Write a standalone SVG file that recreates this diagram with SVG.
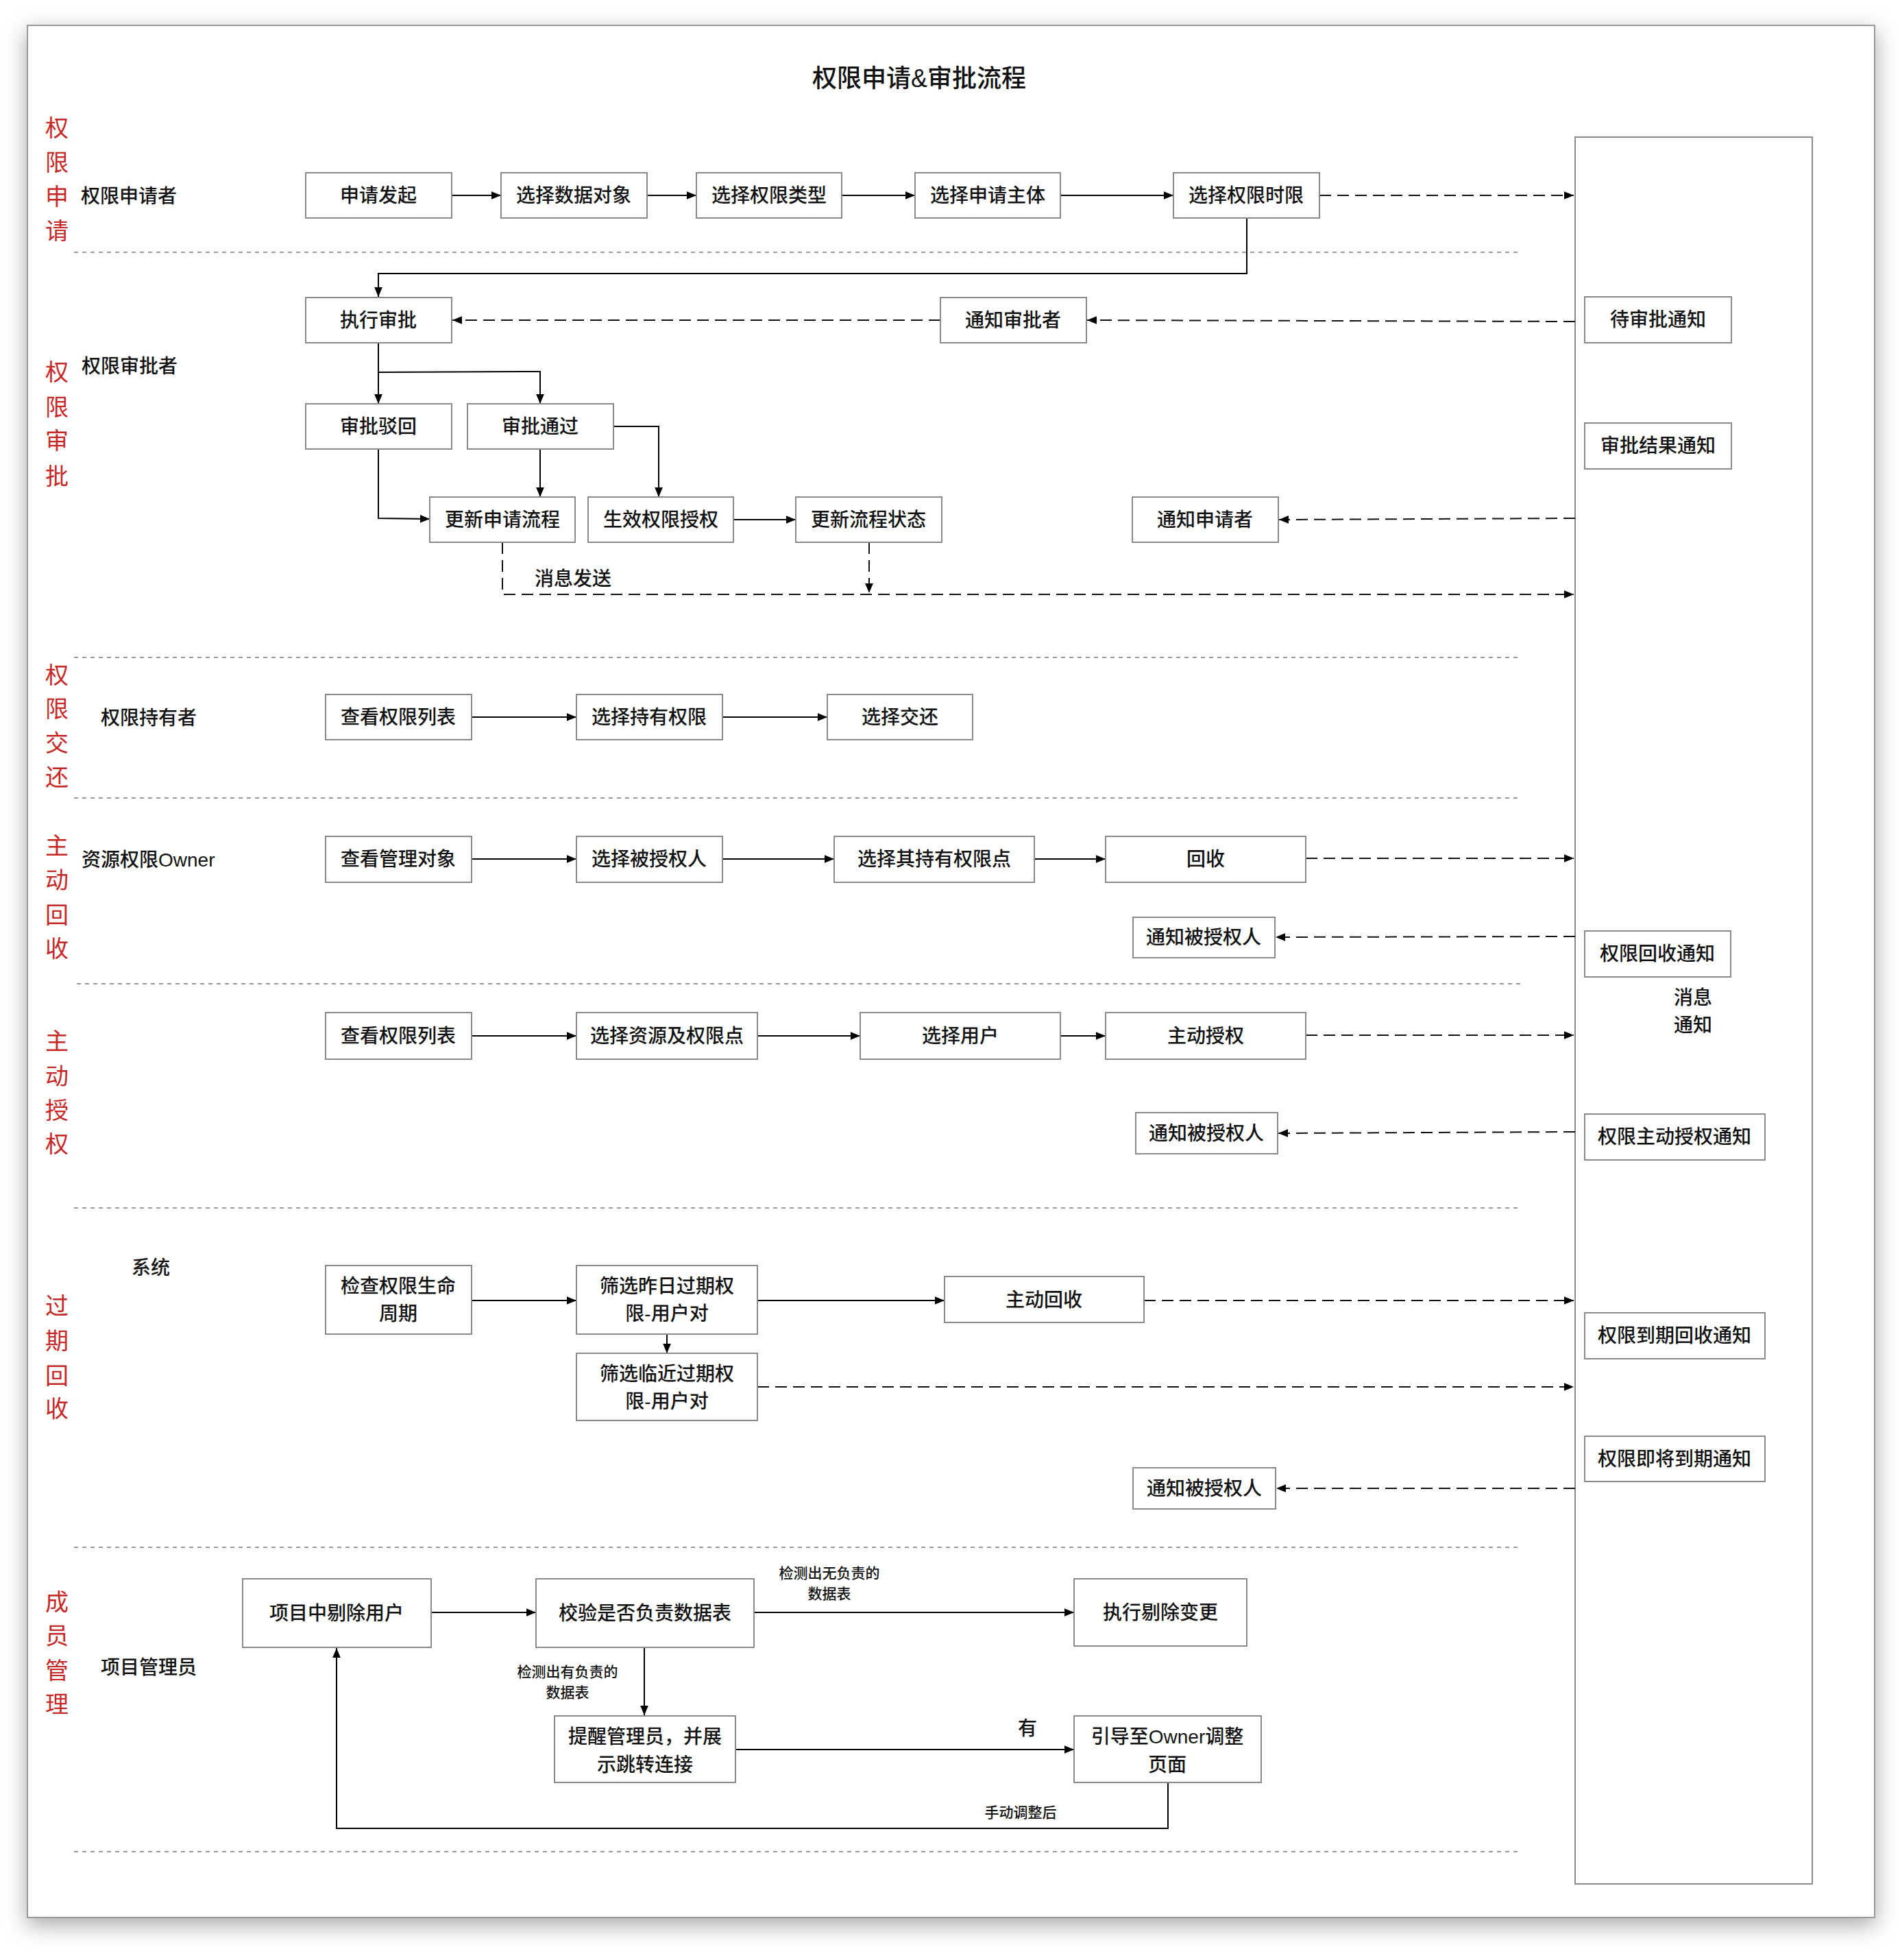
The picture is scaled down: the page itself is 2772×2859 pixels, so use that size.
<svg xmlns="http://www.w3.org/2000/svg" width="2772" height="2859" viewBox="0 0 2772 2859">
<defs>
<filter id="sh" x="-3%" y="-3%" width="106%" height="106%">
<feDropShadow dx="0" dy="10" stdDeviation="16" flood-color="#000" flood-opacity="0.35"/>
</filter>
<marker id="ah" viewBox="0 0 12 10" refX="12" refY="5" markerWidth="14" markerHeight="12" markerUnits="userSpaceOnUse" orient="auto">
<path d="M0,0 L12,5 L0,10 z" fill="#000"/>
</marker>
<style>
text{font-family:'Liberation Sans','Noto Sans CJK SC',sans-serif;fill:#111;}
.bx rect{fill:#fff;stroke:#8a8a8a;stroke-width:2;}
.bx text{font-size:28px;text-anchor:middle;dominant-baseline:central;font-weight:500;}
.lane{font-size:34px;fill:#c62828;text-anchor:middle;dominant-baseline:central;}
.role{font-size:28px;dominant-baseline:central;font-weight:500;}
.lbl{font-size:28px;text-anchor:middle;dominant-baseline:central;font-weight:500;}
.sm{font-size:21px;text-anchor:middle;dominant-baseline:central;font-weight:500;}
.sep{stroke:#9a9a9a;stroke-width:2;stroke-dasharray:6 6;fill:none;}
.s{stroke:#000;stroke-width:2;fill:none;marker-end:url(#ah);}
.sn{stroke:#000;stroke-width:2;fill:none;}
.d{stroke:#111;stroke-width:2;fill:none;stroke-dasharray:17 9;marker-end:url(#ah);}
.dn{stroke:#111;stroke-width:2;fill:none;stroke-dasharray:17 9;}
</style>
</defs>

<rect x="0" y="0" width="2772" height="2859" fill="#fff"/>
<rect x="40" y="37" width="2695" height="2760" fill="#fff" stroke="#999" stroke-width="2" filter="url(#sh)"/>

<text x="1341" y="114" font-size="36" text-anchor="middle" dominant-baseline="central" font-weight="500">权限申请&amp;审批流程</text>

<g id="lanes">
<text class="lane" x="83" y="187">权</text><text class="lane" x="83" y="237">限</text><text class="lane" x="83" y="287">申</text><text class="lane" x="83" y="337">请</text>
<text class="lane" x="83" y="543">权</text><text class="lane" x="83" y="594">限</text><text class="lane" x="83" y="643">审</text><text class="lane" x="83" y="695">批</text>
<text class="lane" x="83" y="985">权</text><text class="lane" x="83" y="1034">限</text><text class="lane" x="83" y="1084">交</text><text class="lane" x="83" y="1134">还</text>
<text class="lane" x="83" y="1234">主</text><text class="lane" x="83" y="1284">动</text><text class="lane" x="83" y="1335">回</text><text class="lane" x="83" y="1384">收</text>
<text class="lane" x="83" y="1519">主</text><text class="lane" x="83" y="1570">动</text><text class="lane" x="83" y="1620">授</text><text class="lane" x="83" y="1669">权</text>
<text class="lane" x="83" y="1905">过</text><text class="lane" x="83" y="1956">期</text><text class="lane" x="83" y="2007">回</text><text class="lane" x="83" y="2055">收</text>
<text class="lane" x="83" y="2337">成</text><text class="lane" x="83" y="2386">员</text><text class="lane" x="83" y="2437">管</text><text class="lane" x="83" y="2486">理</text>
</g>

<g id="roles">
<text class="role" x="118" y="286">权限申请者</text>
<text class="role" x="119" y="534">权限审批者</text>
<text class="role" x="147" y="1047">权限持有者</text>
<text class="role" x="119" y="1254">资源权限Owner</text>
<text class="role" x="192" y="1849">系统</text>
<text class="role" x="147" y="2432">项目管理员</text>
</g>

<g id="separators">
<line class="sep" x1="108" y1="368" x2="2220" y2="368"/>
<line class="sep" x1="108" y1="959" x2="2220" y2="959"/>
<line class="sep" x1="108" y1="1164" x2="2220" y2="1164"/>
<line class="sep" x1="112" y1="1435" x2="2220" y2="1435"/>
<line class="sep" x1="108" y1="1762" x2="2220" y2="1762"/>
<line class="sep" x1="108" y1="2257" x2="2220" y2="2257"/>
<line class="sep" x1="108" y1="2701" x2="2220" y2="2701"/>
</g>

<g id="msgbus" class="bx"><rect x="2298" y="200" width="346" height="2548"/></g>
<text class="lbl" x="2470" y="1455">消息</text>
<text class="lbl" x="2470" y="1495">通知</text>

<g id="connectors">
<line class="s" x1="659" y1="285" x2="731" y2="285"/>
<line class="s" x1="944" y1="285" x2="1016" y2="285"/>
<line class="s" x1="1228" y1="285" x2="1335" y2="285"/>
<line class="s" x1="1547" y1="285" x2="1712" y2="285"/>
<line class="d" x1="1925" y1="285" x2="2296" y2="285"/>
<polyline class="s" points="1819,318 1819,399 552,399 552,433"/>
<line class="d" x1="2298" y1="469" x2="1586" y2="467"/>
<line class="d" x1="1372" y1="467" x2="660" y2="467"/>
<line class="s" x1="552" y1="500" x2="552" y2="589"/>
<polyline class="s" points="552,543 788,542 788,589"/>
<polyline class="s" points="552,655 552,756 627,757"/>
<line class="s" x1="788" y1="655" x2="788" y2="725"/>
<polyline class="s" points="895,622 961,622 961,725"/>
<line class="s" x1="1070" y1="758" x2="1161" y2="758"/>
<line class="d" x1="2298" y1="756" x2="1866" y2="758"/>
<line class="d" x1="1268" y1="791" x2="1268" y2="865"/>
<polyline class="d" points="733,791 733,867 2296,867"/>

<line class="s" x1="688" y1="1046" x2="841" y2="1046"/>
<line class="s" x1="1054" y1="1046" x2="1207" y2="1046"/>

<line class="s" x1="688" y1="1253" x2="841" y2="1253"/>
<line class="s" x1="1054" y1="1253" x2="1217" y2="1253"/>
<line class="s" x1="1509" y1="1253" x2="1613" y2="1253"/>
<line class="d" x1="1905" y1="1252" x2="2296" y2="1252"/>
<line class="d" x1="2298" y1="1366" x2="1861" y2="1367"/>

<line class="s" x1="688" y1="1511" x2="841" y2="1511"/>
<line class="s" x1="1105" y1="1511" x2="1255" y2="1511"/>
<line class="s" x1="1547" y1="1511" x2="1613" y2="1511"/>
<line class="d" x1="1905" y1="1510" x2="2296" y2="1510"/>
<line class="d" x1="2298" y1="1651" x2="1865" y2="1653"/>

<line class="s" x1="688" y1="1897" x2="841" y2="1897"/>
<line class="s" x1="1105" y1="1897" x2="1378" y2="1897"/>
<line class="d" x1="1669" y1="1897" x2="2296" y2="1897"/>
<line class="s" x1="973" y1="1946" x2="973" y2="1974"/>
<line class="d" x1="1105" y1="2023" x2="2296" y2="2023"/>
<line class="d" x1="2298" y1="2171" x2="1862" y2="2171"/>

<line class="s" x1="629" y1="2352" x2="782" y2="2352"/>
<line class="s" x1="1100" y1="2352" x2="1567" y2="2352"/>
<line class="s" x1="940" y1="2403" x2="940" y2="2502"/>
<line class="s" x1="1073" y1="2552" x2="1567" y2="2552"/>
<polyline class="s" points="1704,2600 1704,2667 491,2667 491,2404"/>
</g>

<g id="edge-labels">
<text class="lbl" x="836" y="844">消息发送</text>
<text class="sm" x="1210" y="2294">检测出无负责的</text>
<text class="sm" x="1210" y="2324">数据表</text>
<text class="sm" x="828" y="2438">检测出有负责的</text>
<text class="sm" x="828" y="2468">数据表</text>
<text class="lbl" x="1499" y="2521">有</text>
<text class="sm" x="1489" y="2643">手动调整后</text>
</g>

<g id="n-apply-start" class="bx"><rect x="446" y="252" width="213" height="66"/><text x="552" y="285">申请发起</text></g>
<g id="n-select-data" class="bx"><rect x="731" y="252" width="213" height="66"/><text x="837" y="285">选择数据对象</text></g>
<g id="n-select-type" class="bx"><rect x="1016" y="252" width="212" height="66"/><text x="1122" y="285">选择权限类型</text></g>
<g id="n-select-subject" class="bx"><rect x="1335" y="252" width="212" height="66"/><text x="1441" y="285">选择申请主体</text></g>
<g id="n-select-period" class="bx"><rect x="1712" y="252" width="213" height="66"/><text x="1818" y="285">选择权限时限</text></g>

<g id="n-exec-approve" class="bx"><rect x="446" y="434" width="213" height="66"/><text x="552" y="467">执行审批</text></g>
<g id="n-notify-approver" class="bx"><rect x="1372" y="434" width="213" height="66"/><text x="1478" y="467">通知审批者</text></g>
<g id="n-reject" class="bx"><rect x="446" y="589" width="213" height="66"/><text x="552" y="622">审批驳回</text></g>
<g id="n-pass" class="bx"><rect x="682" y="589" width="213" height="66"/><text x="788" y="622">审批通过</text></g>
<g id="n-update-apply" class="bx"><rect x="627" y="725" width="212" height="66"/><text x="733" y="758">更新申请流程</text></g>
<g id="n-grant" class="bx"><rect x="858" y="725" width="212" height="66"/><text x="964" y="758">生效权限授权</text></g>
<g id="n-update-status" class="bx"><rect x="1161" y="725" width="213" height="66"/><text x="1267" y="758">更新流程状态</text></g>
<g id="n-notify-applicant" class="bx"><rect x="1652" y="725" width="213" height="66"/><text x="1758" y="758">通知申请者</text></g>

<g id="n-view-list-1" class="bx"><rect x="475" y="1013" width="213" height="66"/><text x="581" y="1046">查看权限列表</text></g>
<g id="n-select-held" class="bx"><rect x="841" y="1013" width="213" height="66"/><text x="947" y="1046">选择持有权限</text></g>
<g id="n-return" class="bx"><rect x="1207" y="1013" width="212" height="66"/><text x="1313" y="1046">选择交还</text></g>

<g id="n-view-managed" class="bx"><rect x="475" y="1220" width="213" height="67"/><text x="581" y="1253">查看管理对象</text></g>
<g id="n-select-grantee" class="bx"><rect x="841" y="1220" width="213" height="67"/><text x="947" y="1253">选择被授权人</text></g>
<g id="n-select-points" class="bx"><rect x="1217" y="1220" width="292" height="67"/><text x="1363" y="1253">选择其持有权限点</text></g>
<g id="n-revoke" class="bx"><rect x="1613" y="1220" width="292" height="67"/><text x="1759" y="1253">回收</text></g>
<g id="n-notify-grantee-1" class="bx"><rect x="1653" y="1338" width="207" height="59"/><text x="1756" y="1367">通知被授权人</text></g>

<g id="n-view-list-2" class="bx"><rect x="475" y="1477" width="213" height="68"/><text x="581" y="1511">查看权限列表</text></g>
<g id="n-select-res" class="bx"><rect x="841" y="1477" width="264" height="68"/><text x="973" y="1511">选择资源及权限点</text></g>
<g id="n-select-user" class="bx"><rect x="1255" y="1477" width="292" height="68"/><text x="1401" y="1511">选择用户</text></g>
<g id="n-active-grant" class="bx"><rect x="1613" y="1477" width="292" height="68"/><text x="1759" y="1511">主动授权</text></g>
<g id="n-notify-grantee-2" class="bx"><rect x="1657" y="1623" width="207" height="60"/><text x="1760" y="1653">通知被授权人</text></g>

<g id="n-check-life" class="bx"><rect x="475" y="1846" width="213" height="100"/><text x="581" y="1876">检查权限生命</text><text x="581" y="1916">周期</text></g>
<g id="n-filter-yday" class="bx"><rect x="841" y="1846" width="264" height="100"/><text x="973" y="1876">筛选昨日过期权</text><text x="973" y="1916">限-用户对</text></g>
<g id="n-auto-revoke" class="bx"><rect x="1378" y="1862" width="291" height="67"/><text x="1523" y="1896">主动回收</text></g>
<g id="n-filter-near" class="bx"><rect x="841" y="1974" width="264" height="98"/><text x="973" y="2004">筛选临近过期权</text><text x="973" y="2044">限-用户对</text></g>
<g id="n-notify-grantee-3" class="bx"><rect x="1653" y="2141" width="208" height="60"/><text x="1757" y="2171">通知被授权人</text></g>

<g id="n-remove-user" class="bx"><rect x="354" y="2303" width="275" height="100"/><text x="491" y="2353">项目中剔除用户</text></g>
<g id="n-check-owner" class="bx"><rect x="782" y="2303" width="318" height="100"/><text x="941" y="2353">校验是否负责数据表</text></g>
<g id="n-exec-remove" class="bx"><rect x="1567" y="2303" width="252" height="98"/><text x="1693" y="2352">执行剔除变更</text></g>
<g id="n-remind" class="bx"><rect x="809" y="2503" width="264" height="97"/><text x="941" y="2533">提醒管理员，并展</text><text x="941" y="2574">示跳转连接</text></g>
<g id="n-guide" class="bx"><rect x="1567" y="2503" width="273" height="97"/><text x="1703" y="2533">引导至Owner调整</text><text x="1703" y="2574">页面</text></g>

<g id="n-msg-pending" class="bx"><rect x="2312" y="433" width="214" height="67"/><text x="2419" y="466">待审批通知</text></g>
<g id="n-msg-result" class="bx"><rect x="2312" y="617" width="214" height="67"/><text x="2419" y="650">审批结果通知</text></g>
<g id="n-msg-revoke" class="bx"><rect x="2312" y="1358" width="213" height="67"/><text x="2418" y="1391">权限回收通知</text></g>
<g id="n-msg-grant" class="bx"><rect x="2312" y="1625" width="263" height="67"/><text x="2443" y="1658">权限主动授权通知</text></g>
<g id="n-msg-expired" class="bx"><rect x="2312" y="1915" width="263" height="67"/><text x="2443" y="1948">权限到期回收通知</text></g>
<g id="n-msg-expiring" class="bx"><rect x="2312" y="2095" width="263" height="66"/><text x="2443" y="2128">权限即将到期通知</text></g>
</svg>
